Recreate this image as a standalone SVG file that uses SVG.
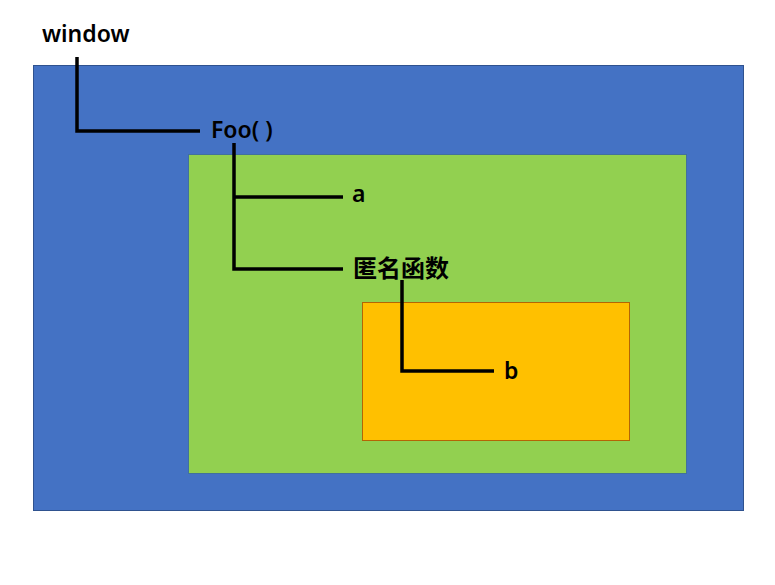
<svg xmlns="http://www.w3.org/2000/svg" width="775" height="585" viewBox="0 0 775 585">
<style>
.lbl{font-family:"Noto Sans","Noto Sans CJK SC",sans-serif;font-size:23px;font-weight:600;fill:#000}
.cjk{font-size:24px}
.conn{fill:none;stroke:#000;stroke-width:3.5}
</style>
<rect width="775" height="585" fill="#fff"/>
<g id="window">
<rect x="33.5" y="65.5" width="710" height="445" fill="#4472c4" stroke="#2f528f" stroke-width="1"/>
<text class="lbl" x="42" y="42">window</text>
</g>
<g id="foo">
<rect x="188.5" y="154.5" width="498" height="319" fill="#92d050" stroke="#41719c" stroke-width="1"/>
<text class="lbl" x="211" y="138">Foo( )</text>
</g>
<g id="a">
<text class="lbl" x="352" y="202">a</text>
</g>
<g id="anon">
<rect x="362.5" y="302.5" width="267" height="138" fill="#ffc000" stroke="#b46504" stroke-width="1"/>
<text class="lbl cjk" x="353" y="277">匿名函数</text>
</g>
<g id="b">
<text class="lbl" x="504" y="379">b</text>
</g>
<g id="connectors">
<polyline class="conn" points="77,57 77,131 200,131"/>
<polyline class="conn" points="234,143 234,269 343,269"/>
<polyline class="conn" points="234,197 343,197"/>
<polyline class="conn" points="402,280 402,371 494,371"/>
</g>
</svg>
